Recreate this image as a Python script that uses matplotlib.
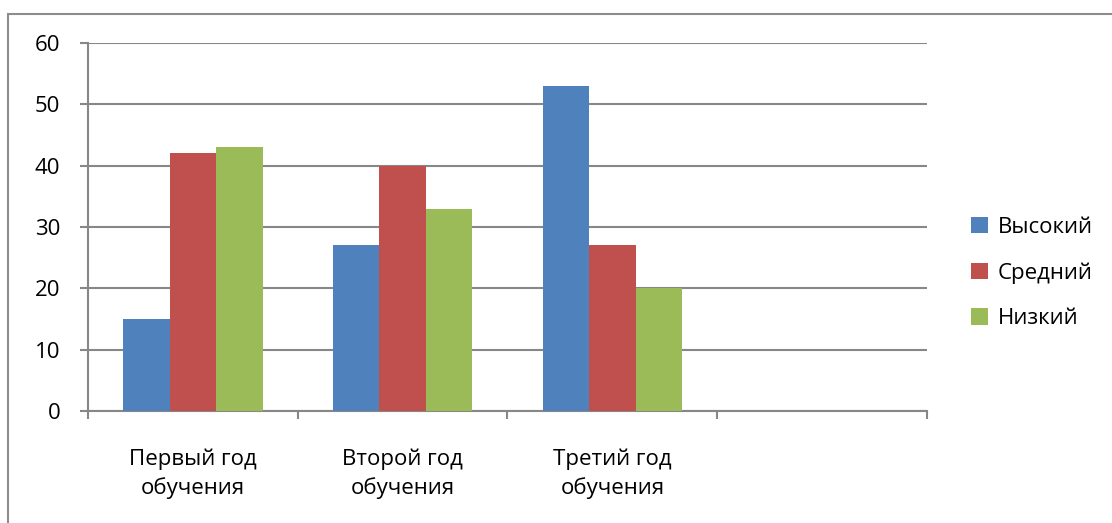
import matplotlib
matplotlib.use("Agg")
import matplotlib.pyplot as plt
import numpy as np
from matplotlib.patches import Rectangle

# categories (the 4th slot is empty in the original chart)
categories = ["Первый год\nобучения", "Второй год\nобучения", "Третий год\nобучения", ""]
series_names = ["Высокий", "Средний", "Низкий"]
high = [15, 27, 53]
mid = [42, 40, 27]
low = [43, 33, 20]
colors = ["#4F81BD", "#C0504D", "#9BBB59"]

plt.rcParams['font.family'] = ['Open Sans', 'DejaVu Sans']
plt.rcParams['font.size'] = 16

fig = plt.figure(figsize=(11.12, 5.23), dpi=100)
ax = fig.add_axes([88 / 1112, 1 - 411 / 523, (927 - 88) / 1112, (411 - 43) / 523])

gray = "#878787"
w = 0.222
x = np.arange(len(high))
for i, (vals, name) in enumerate(zip([high, mid, low], series_names)):
    ax.bar(x + (i - 1) * w, vals, width=w, color=colors[i], label=name, zorder=3)

ax.set_xlim(-0.5, 3.5)
ax.set_ylim(0, 60)
ax.set_yticks(range(0, 61, 10))
ax.yaxis.grid(True, color=gray, linewidth=1.5, zorder=0)
ax.set_xticks([0, 1, 2, 3])
ax.set_xticklabels(categories, linespacing=1.45)
ax.set_xticks([-0.5, 0.5, 1.5, 2.5, 3.5], minor=True)
ax.tick_params(axis="x", which="major", length=0, pad=27)
ax.tick_params(axis="x", which="minor", length=6, color=gray, width=1.5)
ax.tick_params(axis="y", length=6, color=gray, width=1.5, pad=14)

for side in ["top", "right"]:
    ax.spines[side].set_visible(False)
for side in ["left", "bottom"]:
    ax.spines[side].set_color(gray)
    ax.spines[side].set_linewidth(1.5)

ax.legend(loc="center left", bbox_to_anchor=(962 / 1112, 1 - 273 / 523),
          bbox_transform=fig.transFigure, frameon=False,
          handlelength=0.75, handleheight=0.75, handletextpad=0.45,
          labelspacing=1.1, borderaxespad=0)

# outer chart border
fig.patches.append(Rectangle((8 / 1112, -0.1), 1.2, 1 - 14 / 523 + 0.1,
                             transform=fig.transFigure, fill=False,
                             edgecolor="#8c8c8c", linewidth=1.5))

fig.savefig("out.png", dpi=100)
